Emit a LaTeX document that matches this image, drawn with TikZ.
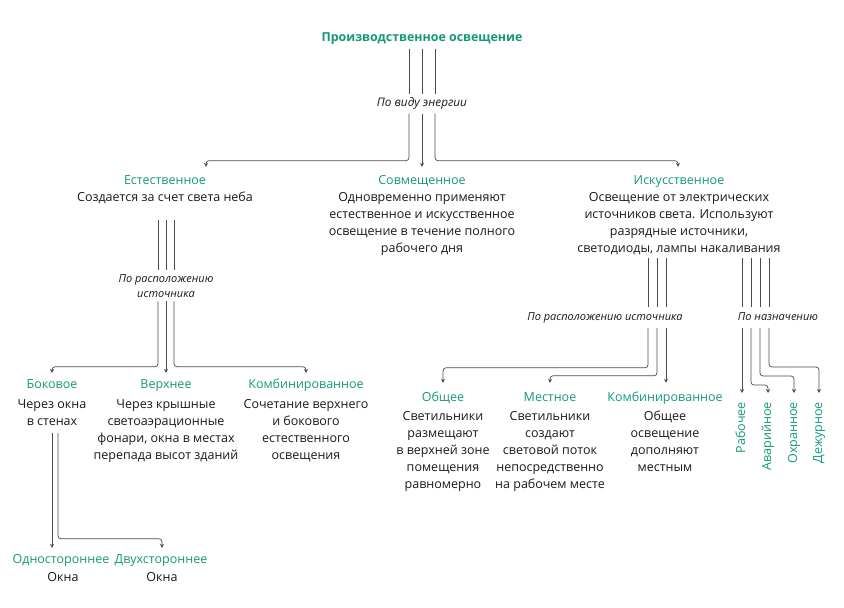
\documentclass[tikz,border=0pt]{standalone}
\usepackage{fontspec}
\setmainfont{Open Sans}
\usetikzlibrary{arrows.meta,calc}
\definecolor{tealc}{RGB}{20,152,122}
\definecolor{lnc}{RGB}{75,75,75}
\definecolor{txc}{RGB}{25,25,25}
\begin{document}
\begin{tikzpicture}[x=1pt,y=1pt,
  hd/.style={text=tealc, font=\fontsize{12.5}{15}\selectfont, inner sep=0pt, text height=9pt, text depth=3pt},
  tx/.style={text=txc, align=center, font=\fontsize{12.5}{17}\selectfont, inner sep=0pt, anchor=north},
  lbf/.style={text=txc, align=center, font=\fontsize{11}{15}\selectfont\itshape, inner xsep=2pt, inner ysep=4pt},
  lb/.style={lbf, text height=8pt, text depth=3pt},
  cn/.style={draw=lnc, line width=0.7pt, rounded corners=3pt},
  ar/.style={cn, -{Stealth[length=4pt,width=4pt]}},
  vt/.style={hd, rotate=90, anchor=east}
]
\path[use as bounding box] (0,0) rectangle (844,-608);

% title
\node[hd, font=\fontsize{12.4}{15}\selectfont\bfseries] (root) at (422,-38) {Производственное освещение};
\node[lb, font=\fontsize{11.8}{15}\selectfont\itshape] (l1) at (422,-104) {По виду энергии};

% level 1
\node[hd] (nat) at (165,-181) {Естественное};
\node[tx] (natT) at (165,-192) {Создается за счет света неба};
\node[hd] (mix) at (422,-181) {Совмещенное};
\node[tx] (mixT) at (422,-192) {Одновременно применяют\\естественное и искусственное\\освещение в течение полного\\рабочего дня};
\node[hd] (art) at (679,-181) {Искусственное};
\node[tx] (artT) at (679,-192) {Освещение от электрических\\источников света. Используют\\разрядные источники,\\светодиоды, лампы накаливания};

\foreach \dx in {-13,0,13}
  \draw[cn] ($(root.south)+(\dx,-5)$) -- ($(l1.north)+(\dx,0)$);
\draw[ar] ($(l1.south)+(-13,0)$) -- ++(0,-47) -| ($(nat.north)+(41,8)$);
\draw[ar] (l1.south) -- ($(mix.north)+(0,8)$);
\draw[ar] ($(l1.south)+(13,0)$) -- ++(0,-47) -| ($(art.north)+(-1,8)$);

% natural branch
\node[lbf, anchor=north] (l2) at (166,-270) {По расположению\\источника};
\foreach \dx in {-8,0,8}
  \draw[cn] (166+\dx,-220) -- ($(l2.north)+(\dx,0)$);
\node[hd] (side) at (52,-385) {Боковое};
\node[tx] (sideT) at (52,-399) {Через окна\\в стенах};
\node[hd] (top) at (166,-385) {Верхнее};
\node[tx] (topT) at (166,-399) {Через крышные\\светоаэрационные\\фонари, окна в местах\\перепада высот зданий};
\node[hd] (ncomb) at (306,-385) {Комбинированное};
\node[tx] (ncombT) at (306,-399) {Сочетание верхнего\\и бокового\\естественного\\освещения};
\draw[ar] ($(l2.south)+(-8,0)$) |- ($(side.north)+(0,12)$) -- ($(side.north)+(0,6)$);
\draw[ar] (l2.south) -- ($(top.north)+(0,6)$);
\draw[ar] ($(l2.south)+(8,0)$) |- ($(ncomb.north)+(0,12)$) -- ($(ncomb.north)+(0,6)$);

% side sub-branch
\node[hd] (one) at (61,-560) {Одностороннее};
\node[tx] (oneT) at (63,-572) {Окна};
\node[hd] (two) at (161,-560) {Двухстороннее};
\node[tx] (twoT) at (162,-572) {Окна};
\coordinate (s1) at (52,-433);
\coordinate (s2) at (58,-433);
\draw[ar] (s1) -- ($(one.north)+(-9,6)$);
\draw[ar] (s2) |- ($(two.north)+(1,15)$) -- ($(two.north)+(1,6)$);

% artificial branch: location
\node[lb] (l3) at (605,-318) {По расположению источника};
\foreach \x in {648,657,666}
  \draw[cn] (\x,-258) -- (\x,-307);
\node[hd] (gen) at (443,-398) {Общее};
\node[tx] (genT) at (443,-411) {Светильники\\размещают\\в верхней зоне\\помещения\\равномерно};
\node[hd] (loc) at (550,-398) {Местное};
\node[tx] (locT) at (550,-411) {Светильники\\создают\\световой поток\\непосредственно\\на рабочем месте};
\node[hd] (acomb) at (665,-398) {Комбинированное};
\node[tx] (acombT) at (665,-411) {Общее\\освещение\\дополняют\\местным};
\draw[ar] (648,-328) |- ($(gen.north)+(0,24)$) -- ($(gen.north)+(0,9)$);
\draw[ar] (657,-328) |- ($(loc.north)+(0,16)$) -- ($(loc.north)+(0,9)$);
\draw[ar] (666,-328) -- ($(acomb.north)+(1,9)$);

% artificial branch: purpose
\node[lb] (l4) at (778,-318) {По назначению};
\foreach \x in {742,751,760,769}
  \draw[cn] (\x,-258) -- (\x,-307);
\node[vt] (work) at (742,-402) {Рабочее};
\node[vt] (emer) at (768,-402) {Аварийное};
\node[vt] (guard) at (794,-402) {Охранное};
\node[vt] (duty) at (819,-402) {Дежурное};
\draw[ar] (742,-328) -- ($(work.east)+(0,9)$);
\draw[ar] (751,-328) |- ($(emer.east)+(0,17)$) -- ($(emer.east)+(0,9)$);
\draw[ar] (760,-328) |- ($(guard.east)+(0,26)$) -- ($(guard.east)+(0,9)$);
\draw[ar] (769,-328) |- ($(duty.east)+(0,35)$) -- ($(duty.east)+(0,9)$);
\end{tikzpicture}
\end{document}
